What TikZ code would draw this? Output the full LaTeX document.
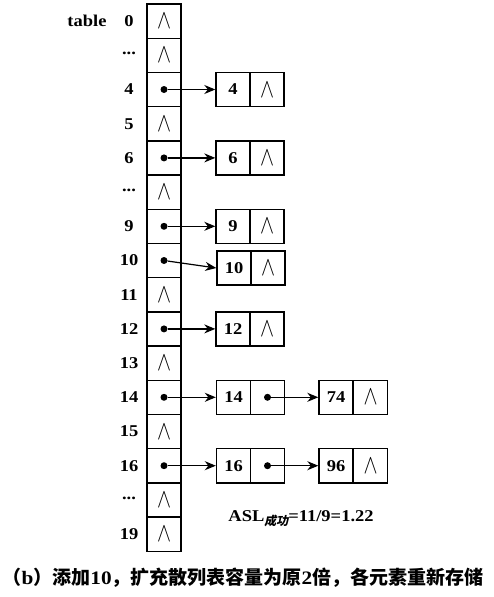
\documentclass[tikz,border=0pt]{standalone}
\usepackage{fontspec}
\setmainfont{Liberation Serif}[FakeStretch=1.12]
\newfontfamily\cjk{Noto Sans CJK SC}
\newfontfamily\cjkit{Noto Sans CJK SC}[FakeSlant=0.2]
\usetikzlibrary{arrows.meta}
\newcommand\nulsym{\resizebox{14pt}{15pt}{$\wedge$}}
\newcommand\rowdots{\raisebox{3.5pt}{...}}
\begin{document}
\begin{tikzpicture}[x=1pt,y=-1pt,
  cell/.style={draw,line width=1.4pt,minimum width=34pt,minimum height=34.2pt,inner sep=0pt,font=\fontsize{16.5}{16.5}\selectfont\bfseries},
  lab/.style={font=\fontsize{16.5}{16.5}\selectfont\bfseries,inner sep=0pt},
  dotc/.style={circle,fill=black,inner sep=0pt,minimum size=7pt},
  arr/.style={line width=1.2pt,-{Stealth[length=11pt,width=9pt]}}]
\useasboundingbox (0,0) rectangle (494,597);
% null table cells
\foreach \i in {0,1,3,5,8,10,12,14,15}{
  \node[cell] (t\i) at (164,{21.1+34.2*\i}) {\nulsym};
}
% pointer table cells
\foreach \i in {2,4,6,7,9,11,13}{
  \node[cell] (t\i) at (164,{21.1+34.2*\i}) {};
  \node[dotc] (d\i) at (164,{21.1+34.2*\i}) {};
}
% labels
\foreach \i/\l in {0/0,2/4,3/5,4/6,6/9,7/10,8/11,9/12,10/13,11/14,12/15,13/16,15/19}{
  \node[lab] (l\i) at (129,{21.1+34.2*\i}) {\l};
}
\node[lab] (l1) at (129,55.3) {\rowdots};
\node[lab] (l5) at (129,192.1) {\rowdots};
\node[lab] (l14) at (129,499.9) {\rowdots};
\node[lab] (tbl) at (87,21) {table};
% list nodes
\foreach \i/\v in {2/4,4/6,6/9,9/12}{
  \node[cell] (k\i) at (233,{21.1+34.2*\i}) {\v};
  \node[cell] (n\i) at (267,{21.1+34.2*\i}) {\nulsym};
  \draw[arr] (d\i) -- (k\i.west);
}
% 10 shifted
\node[cell] (k7) at (234,268) {10};
\node[cell] (n7) at (268,268) {\nulsym};
\draw[arr] (d7) -- (k7.west);
% 14 and 16 with chains
\foreach \i/\v/\w in {11/14/74,13/16/96}{
  \node[cell] (k\i) at (233.5,{21.1+34.2*\i}) {\v};
  \node[cell] (p\i) at (267.5,{21.1+34.2*\i}) {};
  \node[dotc] (q\i) at (267.5,{21.1+34.2*\i}) {};
  \node[cell] (m\i) at (336,{21.1+34.2*\i}) {\w};
  \node[cell] (z\i) at (370.5,{21.1+34.2*\i}) {\nulsym};
  \draw[arr] (d\i) -- (k\i.west);
  \draw[arr] (q\i) -- (m\i.west);
}
\node[lab] (asl) at (301,519) {ASL\raisebox{-4pt}{\fontsize{12}{12}\selectfont\cjkit 成功}=11/9=1.22};
\node[inner sep=0pt] (cap) at (243,578) {\fontsize{19}{19}\selectfont\bfseries{\cjk\bfseries （}b{\cjk\bfseries ）添加}10{\cjk\bfseries ，扩充散列表容量为原}2{\cjk\bfseries 倍，各元素重新存储}};
\end{tikzpicture}
\end{document}
